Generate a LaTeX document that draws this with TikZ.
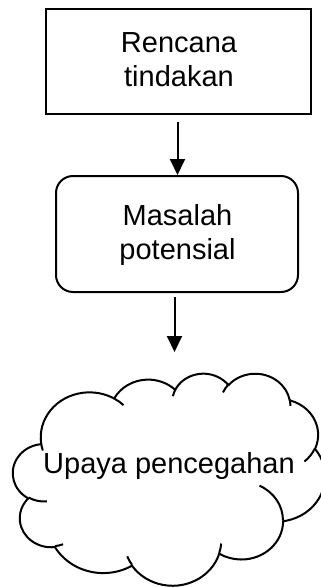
\documentclass[tikz,border=0pt]{standalone}
\usepackage{fontspec}
\setmainfont{Liberation Sans}
\usetikzlibrary{arrows.meta}
% OOXML-style arcTo: wR, hR (path units), start angle and sweep (degrees, visual, y down)
\newcommand\carc[4]{arc[start angle={-atan2((#1)*sin(#3),(#2)*cos(#3))},
  delta angle={-(mod(atan2((#1)*sin((#3)+(#4)),(#2)*cos((#3)+(#4)))-atan2((#1)*sin(#3),(#2)*cos(#3))+720,360)-((#4)<0)*360)},
  x radius={(#1)/100*0.722222pt}, y radius={(#2)/100*0.490741pt}]}
\tikzset{
  box/.style={draw=black, line width=2pt, fill=white, inner sep=0pt},
  txt/.style={font=\fontsize{29}{34}\selectfont, align=center, inner sep=0pt},
  arr/.style={line width=2pt, -{Triangle[length=16pt,width=15pt]}},
  cloudline/.style={line width=2pt, line join=round},
}
\begin{document}
\begin{tikzpicture}[x=1pt,y=-1pt]
\useasboundingbox[fill=white] (0,0) rectangle (321,587);
\node[box, minimum width=265pt, minimum height=105pt] (r) at (178.5,61.5) {};
\node[txt] (rt) at (179,60) {Rencana\\tindakan};
\node[box, rounded corners=17pt, minimum width=242pt, minimum height=116pt] (m) at (177,234) {};
\node[txt] (mt) at (177.5,234.5) {Masalah\\potensial};
\coordinate (a1) at (177.5,122);
\draw[arr] (a1) -- (a1 |- m.north);
\coordinate (a2s) at (174.5,297);
\coordinate (a2e) at (174.5,352);
\draw[arr] (a2s) -- (a2e);
\begin{scope}[shift={(13,373)}, x=0.722222pt, y=-0.490741pt]
\draw[cloudline] (39,143.70)
  \carc{6753}{9190}{-190.487483}{123.780533}
  \carc{5333}{7267}{-144.102383}{89.945233}
  \carc{4365}{5945}{-145.807917}{99.723017}
  \carc{4857}{6595}{-130.986067}{117.241733}
  \carc{5333}{7273}{-78.708883}{109.026917}
  \carc{6775}{9220}{-46.26725}{130.269}
  \carc{5785}{7867}{0.625017}{114.033333}
  \carc{6752}{9215}{22.4516}{115.17255}
  \carc{7720}{10543}{66.242633}{75.711017}
  \carc{4360}{5918}{-274.942083}{146.735567}
  \carc{4345}{5945}{-246.8285}{152.51885}
  -- cycle;
\draw[cloudline]
  (46.93,261.77) \carc{4345}{5945}{86.742}{26.4295}
  (69.28,348.99) \carc{4360}{5918}{73.610467}{11.447467}
  (164.78,390.90) \carc{6752}{9215}{137.624150}{14.081100}
  (288.27,347.51) \carc{6752}{9215}{6.453267}{15.998350}
  (341.29,229.54) \carc{5785}{7867}{-70.292350}{70.917367}
  (417.98,153.54) \carc{5333}{7273}{30.318033}{27.751500}
  (383.24,54.26) \carc{4857}{6595}{-13.744333}{14.858900}
  (290.78,39.52) \carc{4857}{6595}{-149.181450}{18.195367}
  (221.41,47.20) \carc{4365}{5945}{-163.494267}{17.686350}
  (140.00,51.92) \carc{6753}{9190}{-66.706950}{12.319350}
  (41.27,157.89) \carc{6753}{9190}{157.654350}{11.858167};
\end{scope}
\node[txt, anchor=base] (up) at (169,473) {Upaya pencegahan};
\end{tikzpicture}
\end{document}
